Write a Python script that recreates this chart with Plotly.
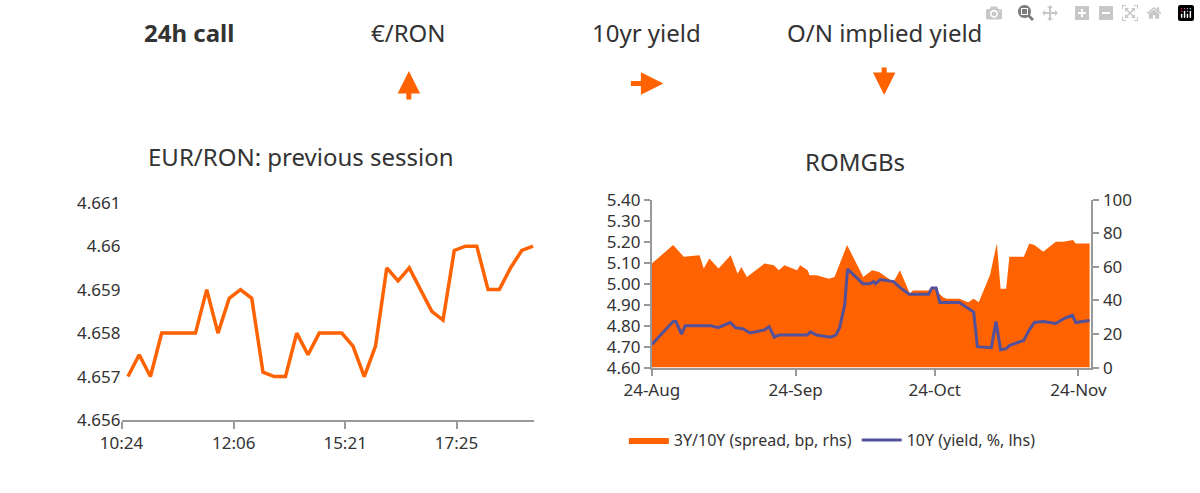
import plotly.graph_objects as go
import pandas as pd

# EUR/RON intraday (index positions)
eur_vals = [4.657, 4.6575, 4.657, 4.658, 4.658, 4.658, 4.658, 4.659, 4.658, 4.6588, 4.659, 4.6588,
            4.6571, 4.657, 4.657, 4.658, 4.6575, 4.658, 4.658, 4.658, 4.6577, 4.657, 4.6577,
            4.6595, 4.6592, 4.6595, 4.659, 4.6585, 4.6583, 4.6599, 4.660, 4.660, 4.659, 4.659,
            4.6595, 4.6599, 4.660]
eur_ticks = ["10:24", "12:06", "15:21", "17:25"]
eur_tickpos = [-0.57, 9.4, 19.3, 29.2]

# ROMGBs: day offsets from 24-Aug
spread_days = [0, 4.6, 6.9, 10.3, 11.2, 12.4, 14.4, 17, 18.5, 19.3, 20.5, 24.3, 26.3, 27.4, 28.6,
               31.3, 32, 33.6, 34, 35.5, 38.2, 39.4, 42.1, 45.6, 47.5, 49, 52.1, 53.5, 55.2, 55.6,
               56.3, 59.7, 60.5, 62.8, 63.6, 66.3, 68.2, 69.4, 70.5, 72.9, 74.4, 75.2, 76.4, 77.1,
               80.2, 81.4, 82.5, 84.4, 87.1, 88.7, 90.8, 91.4, 94.4]
spread_vals = [62, 73, 66, 67, 59, 65, 59, 67, 56, 60, 54, 62, 61, 58, 61, 58, 61, 58, 55, 55, 53, 54,
               73, 54, 58, 57, 51, 58, 47, 44, 46, 46, 48, 42, 41, 41, 39, 41, 39, 55, 74, 47, 47, 66,
               66, 74, 73, 69, 75, 75, 76, 74, 74]
yield_days = [0, 4.6, 5.2, 6.4, 7.2, 12.7, 14.3, 16.9, 18.1, 19.6, 21.2, 24.3, 25.3, 26.4, 27.4,
              33.5, 34.2, 35.5, 38.5, 39.7, 40.5, 41.6, 42.2, 45.5, 47.0, 47.8, 48.2, 49.3, 52.1,
              53.6, 55.5, 59.7, 60.4, 61.3, 62.1, 66.3, 69.4, 70.2, 73.2, 74.2, 75.2, 76.4, 77.1,
              80.2, 81.4, 82.5, 84.4, 87.1, 89.0, 90.7, 91.4, 94.4]
yield_vals = [4.71, 4.82, 4.82, 4.76, 4.80, 4.80, 4.79, 4.815, 4.79, 4.785, 4.765, 4.78, 4.795,
              4.745, 4.755, 4.755, 4.77, 4.755, 4.745, 4.755, 4.79, 4.90, 5.07, 5.00, 5.00, 5.01,
              5.00, 5.02, 5.01, 4.98, 4.95, 4.95, 4.98, 4.98, 4.91, 4.91, 4.865, 4.70, 4.695, 4.82,
              4.685, 4.69, 4.705, 4.73, 4.78, 4.815, 4.82, 4.81, 4.835, 4.85, 4.815, 4.825]
start = pd.Timestamp("2018-08-24")
spread_x = [start + pd.Timedelta(days=d) for d in spread_days]
yield_x = [start + pd.Timedelta(days=d) for d in yield_days]
date_ticks = ["2018-08-24", "2018-09-24", "2018-10-24", "2018-11-24"]

ORANGE = "#FF6200"
PURPLE = "#525199"
GRAY = "#999999"
TXT = "#333333"
H = 493

def py(p):
    return 1 - p / H

fig = go.Figure()
fig.add_trace(go.Scatter(x=list(range(len(eur_vals))), y=eur_vals, mode="lines",
                         line=dict(color=ORANGE, width=3.5), xaxis="x", yaxis="y", showlegend=False))
fig.add_trace(go.Scatter(x=spread_x, y=spread_vals, mode="lines", fill="tozeroy",
                         fillcolor=ORANGE, line=dict(color=ORANGE, width=0),
                         name="3Y/10Y (spread, bp, rhs)", xaxis="x2", yaxis="y3"))
fig.add_trace(go.Scatter(x=yield_x, y=yield_vals, mode="lines", line=dict(color=PURPLE, width=3),
                         name="10Y (yield, %, lhs)", xaxis="x2", yaxis="y4"))

axfont = dict(size=17, color=TXT)
fig.update_layout(
    width=1200, height=H, paper_bgcolor="white", plot_bgcolor="white",
    font=dict(family="Noto Sans", color=TXT),
    margin=dict(l=0, r=0, t=0, b=0),
    xaxis=dict(domain=[97/1200, 525/1200], range=[-0.57, 36.1], tickvals=eur_tickpos,
               ticktext=eur_ticks, showgrid=False, zeroline=False, showline=True,
               linecolor=GRAY, linewidth=2, ticks="outside", tickcolor=GRAY, tickwidth=2,
               ticklen=7, tickfont=axfont, anchor="y"),
    yaxis=dict(domain=[py(428), py(200)], range=[4.656, 4.661], dtick=0.001, showgrid=False,
               zeroline=False, showline=False, tickfont=axfont, anchor="x"),
    xaxis2=dict(domain=[647/1200, 1103/1200], range=[start, start + pd.Timedelta(days=94.8)],
                tickvals=date_ticks, tickformat="%d-%b", showgrid=False, zeroline=False,
                showline=True, linecolor=GRAY, linewidth=2, ticks="outside", tickcolor=GRAY,
                tickwidth=2, ticklen=6, tickfont=axfont, anchor="y4"),
    yaxis3=dict(domain=[py(373), py(197)], range=[0, 100], dtick=20, side="right",
                showgrid=False, zeroline=False, showline=True, linecolor=GRAY, linewidth=2,
                ticks="outside", tickcolor=GRAY, tickwidth=2, ticklen=6, tickfont=axfont,
                anchor="x2"),
    yaxis4=dict(domain=[py(373), py(197)], range=[4.60, 5.40], dtick=0.1, tickformat=".2f",
                side="left", overlaying="y3", showgrid=False, zeroline=False, showline=True,
                linecolor=GRAY, linewidth=2, ticks="outside", tickcolor=GRAY, tickwidth=2,
                ticklen=6, tickfont=axfont, anchor="x2"),
    legend=dict(orientation="h", x=0.515, y=py(449), yanchor="middle", xanchor="left",
                font=dict(size=16, color=TXT), bgcolor="rgba(0,0,0,0)", itemwidth=40,
                traceorder="normal"),
)

anns = [
    dict(text="<b>24h call</b>", x=167/1200, y=py(22)),
    dict(text="€/RON", x=395/1200, y=py(22)),
    dict(text="10yr yield", x=641/1200, y=py(22)),
    dict(text="O/N implied yield", x=888/1200, y=py(22)),
    dict(text="EUR/RON: previous session", x=283/1200, y=py(152)),
    dict(text="ROMGBs", x=858/1200, y=py(157)),
]
for a in anns:
    fig.add_annotation(xref="paper", yref="paper", showarrow=False, font=dict(size=24, color=TXT),
                       xanchor="center", yanchor="middle", **a)

arrows = [(395, 92, 395, 62), (625, 75, 659, 75), (888, 58, 888, 87)]
for x0, y0, x1, y1 in arrows:
    fig.add_annotation(xref="paper", yref="paper", axref="pixel", ayref="pixel",
                       x=x1/1200, y=py(y1), ax=x0 - x1, ay=y0 - y1, text="", showarrow=True,
                       arrowhead=2, arrowsize=0.9, arrowwidth=5, arrowcolor=ORANGE)

fig.write_html("out.html")
with open("out.html", encoding="utf-8") as f:
    html = f.read()
html = html.replace("<head>", "<head><style>html,body{margin:0;padding:0;overflow:hidden}</style>", 1)
with open("out.html", "w", encoding="utf-8") as f:
    f.write(html)
